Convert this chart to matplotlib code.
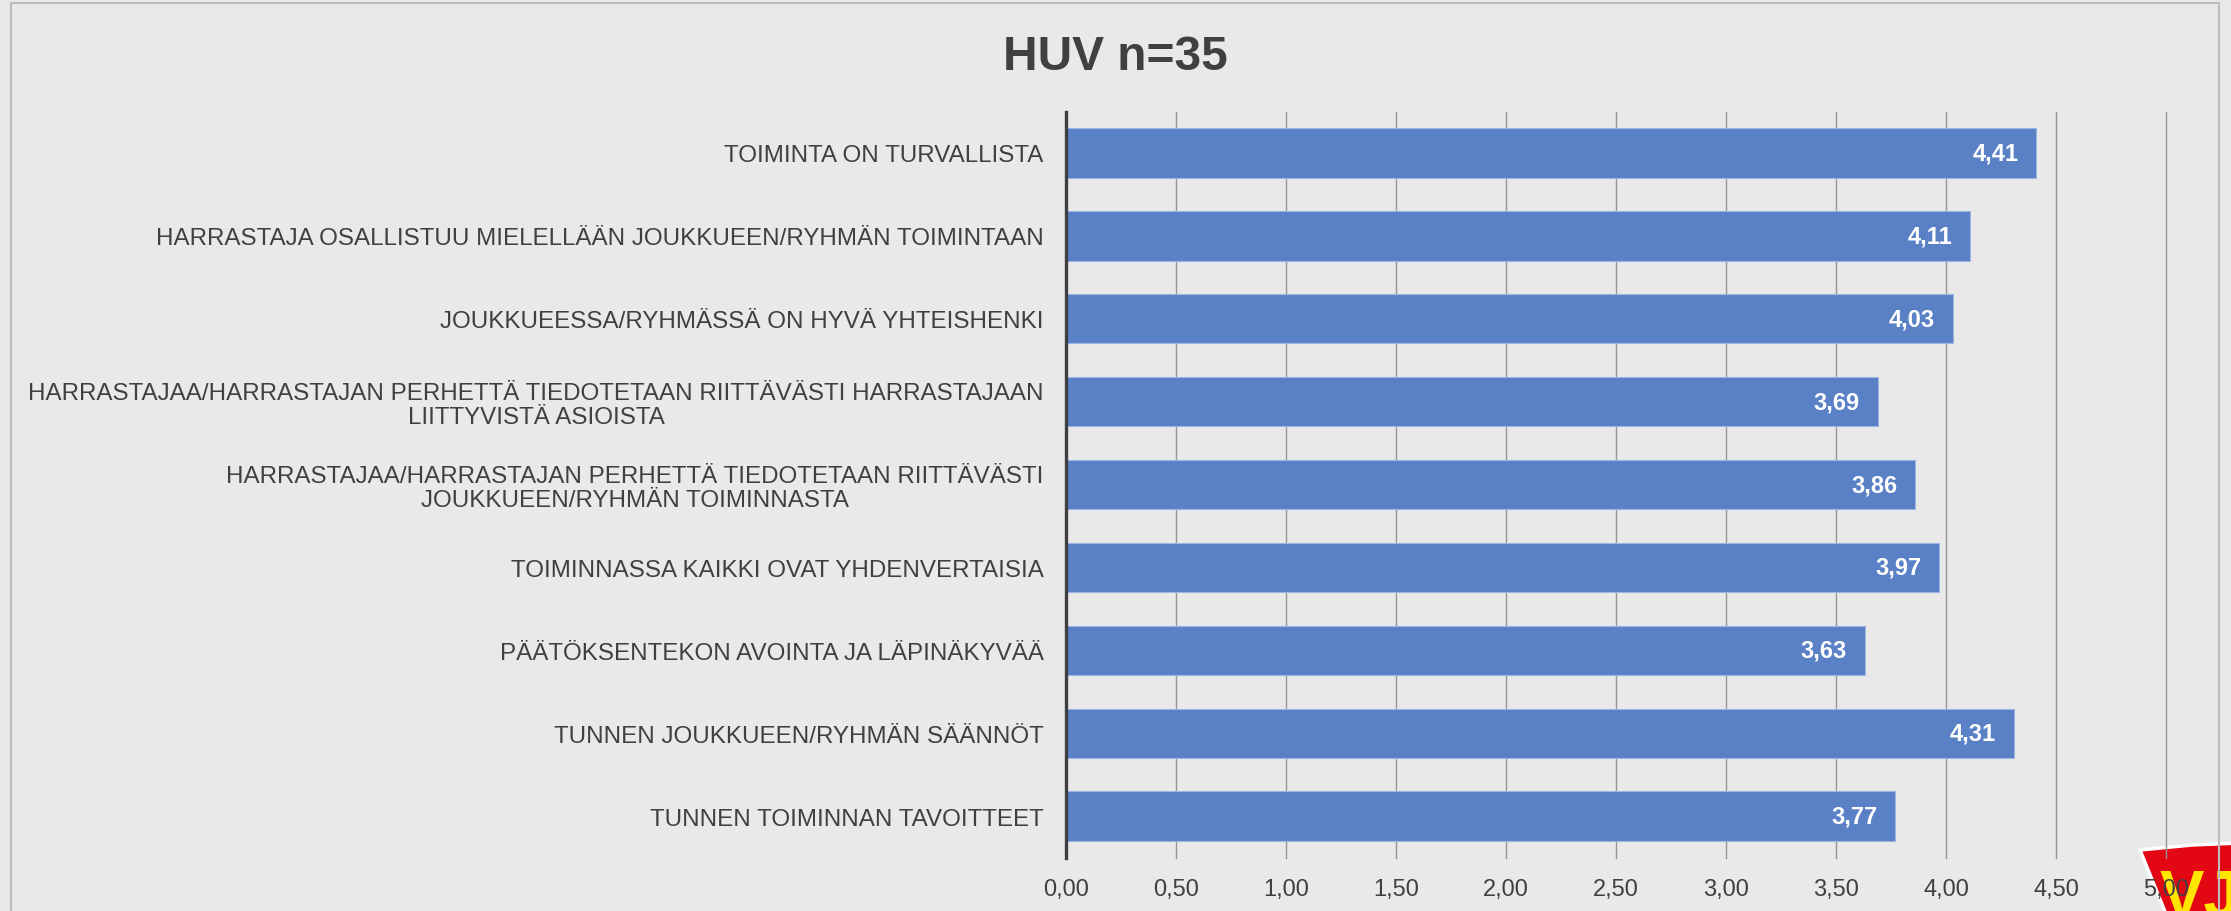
import numpy as np
import matplotlib.pyplot as plt
from matplotlib.patches import Polygon, Rectangle

plt.rcParams['font.family'] = ['Liberation Sans', 'DejaVu Sans']

# data
title = 'HUV n=35'
categories = [
    'TOIMINTA ON TURVALLISTA',
    'HARRASTAJA OSALLISTUU MIELELLÄÄN JOUKKUEEN/RYHMÄN TOIMINTAAN',
    'JOUKKUEESSA/RYHMÄSSÄ ON HYVÄ YHTEISHENKI',
    'HARRASTAJAA/HARRASTAJAN PERHETTÄ TIEDOTETAAN RIITTÄVÄSTI HARRASTAJAAN\nLIITTYVISTÄ ASIOISTA',
    'HARRASTAJAA/HARRASTAJAN PERHETTÄ TIEDOTETAAN RIITTÄVÄSTI\nJOUKKUEEN/RYHMÄN TOIMINNASTA',
    'TOIMINNASSA KAIKKI OVAT YHDENVERTAISIA',
    'PÄÄTÖKSENTEKON AVOINTA JA LÄPINÄKYVÄÄ',
    'TUNNEN JOUKKUEEN/RYHMÄN SÄÄNNÖT',
    'TUNNEN TOIMINNAN TAVOITTEET',
]
values = [4.41, 4.11, 4.03, 3.69, 3.86, 3.97, 3.63, 4.31, 3.77]
xticks = [0, 0.5, 1, 1.5, 2, 2.5, 3, 3.5, 4, 4.5, 5]

txt = '#404040'
bar_col = '#5a80c6'
W, H = 2231, 912

fig = plt.figure(figsize=(W / 100, H / 100), dpi=100)
fig.patch.set_facecolor('#e9e9e9')

# corner logo, partly cut off by the picture edge
shield = [(2140, 851), (2192, 846), (2240, 844), (2240, 920), (2168, 920)]
fig.patches.append(Polygon([(px / W, 1 - py / H) for px, py in shield], closed=True,
                           transform=fig.transFigure, facecolor='#e30613',
                           edgecolor='white', linewidth=2.5, zorder=1))
fig.text(2160 / W, 1 - 900 / H, 'VJ', fontsize=48, fontweight='bold', color='#ffe500',
         ha='left', va='center', zorder=2)

# chart border
fig.patches.append(Rectangle((11 / W, -0.01), (2219 - 11) / W, (H - 4) / H + 0.01,
                             transform=fig.transFigure, fill=False,
                             edgecolor='#bdbdbd', linewidth=1.5, zorder=3))

ax = fig.add_axes([1066 / W, 1 - 858.6 / H, 1100 / W, (858.6 - 112.5) / H])
ax.set_facecolor('none')
ax.set_zorder(5)

y = np.arange(len(categories))
bars = ax.barh(y, values, height=0.596, color=bar_col, edgecolor='#9db5e2',
               linewidth=0.8, zorder=3)

for b, v in zip(bars, values):
    ax.annotate(f'{v:.2f}'.replace('.', ','), (v, b.get_y() + b.get_height() / 2),
                xytext=(-13, 0), textcoords='offset points', ha='right', va='center',
                color='white', fontsize=17, fontweight='bold', zorder=4)

ax.set_xlim(0, 5)
ax.set_ylim(len(categories) - 0.5, -0.5)
ax.set_xticks(xticks)
ax.set_xticklabels([f'{t:.2f}'.replace('.', ',') for t in xticks], fontsize=17, color=txt)
ax.set_yticks(y)
ax.set_yticklabels(categories, fontsize=17.4, color=txt, multialignment='center',
                   linespacing=1.1)
ax.tick_params(axis='both', length=0)
ax.tick_params(axis='x', pad=15)
ax.tick_params(axis='y', pad=16)

ax.grid(axis='x', color='#959595', linewidth=1.0, zorder=1)
for gl in ax.get_xgridlines():
    gl.set_clip_on(False)
ax.set_axisbelow(True)
for s in ['top', 'right', 'bottom']:
    ax.spines[s].set_visible(False)
ax.spines['left'].set_color('#3f3f3f')
ax.spines['left'].set_linewidth(2.4)
ax.spines['left'].set_zorder(5)

fig.text(1115 / W, 1 - 58 / H, title, ha='center', va='center', fontsize=34.5,
         fontweight='bold', color=txt)

fig.savefig('out.png', dpi=100, facecolor=fig.get_facecolor())
